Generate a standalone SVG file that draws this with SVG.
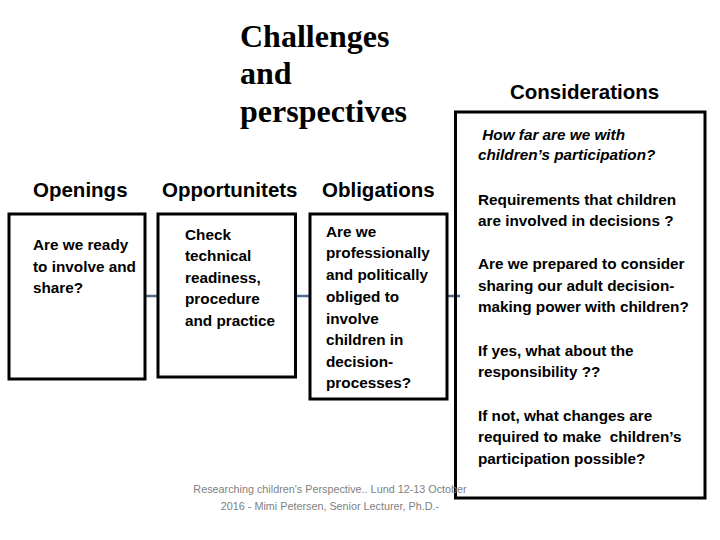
<svg xmlns="http://www.w3.org/2000/svg" width="720" height="540" viewBox="0 0 720 540">
<style>
.box{fill:none;stroke:#000;stroke-width:3}
.title{font-family:"Liberation Serif",serif;font-size:32px;font-weight:bold;fill:#000}
.hd{font-family:"Liberation Sans",Arial,sans-serif;font-size:20.5px;font-weight:bold;fill:#000}
.tx{font-family:"Liberation Sans",Arial,sans-serif;font-size:15.3px;font-weight:bold;fill:#000}
.it{font-style:italic}
.ft{font-family:"Liberation Sans",Arial,sans-serif;font-size:10.8px;fill:#7f7f7f}
.conn{stroke:#4f6a8a;stroke-width:2.5;fill:none}
</style>
<rect width="720" height="540" fill="#fff"/>
<g id="title">
<text class="title" x="240" y="47">Challenges</text>
<text class="title" x="240" y="84">and</text>
<text class="title" x="240" y="122">perspectives</text>
</g>
<g id="connectors">
<line class="conn" x1="145" y1="296" x2="158" y2="296"/>
<line class="conn" x1="295" y1="296" x2="310" y2="296"/>
<line class="conn" x1="447" y1="296" x2="460" y2="296"/>
</g>
<g id="openings">
<text class="hd" x="33" y="197">Openings</text>
<rect class="box" x="9" y="214" width="136" height="165"/>
<text class="tx" x="33" y="250">Are we ready</text>
<text class="tx" x="33" y="272">to involve and</text>
<text class="tx" x="33" y="293">share?</text>
</g>
<g id="opportunities">
<text class="hd" x="162" y="197">Opportunitets</text>
<rect class="box" x="158" y="214" width="137.5" height="163"/>
<text class="tx" x="185" y="240">Check</text>
<text class="tx" x="185" y="261">technical</text>
<text class="tx" x="185" y="283">readiness,</text>
<text class="tx" x="185" y="304">procedure</text>
<text class="tx" x="185" y="326">and practice</text>
</g>
<g id="obligations">
<text class="hd" x="322" y="197">Obligations</text>
<rect class="box" x="310" y="214" width="137" height="185"/>
<text class="tx" x="326" y="237">Are we</text>
<text class="tx" x="326" y="258">professionally</text>
<text class="tx" x="326" y="280">and politically</text>
<text class="tx" x="326" y="302">obliged to</text>
<text class="tx" x="326" y="324">involve</text>
<text class="tx" x="326" y="345">children in</text>
<text class="tx" x="326" y="367">decision-</text>
<text class="tx" x="326" y="388">processes?</text>
</g>
<g id="considerations">
<text class="hd" x="510" y="99">Considerations</text>
<rect class="box" x="455.5" y="112" width="249.5" height="386"/>
<text class="tx it" x="478" y="140" xml:space="preserve"> How far are we with</text>
<text class="tx it" x="478" y="160">children’s participation?</text>
<text class="tx" x="478" y="205">Requirements that children</text>
<text class="tx" x="478" y="226">are involved in decisions ?</text>
<text class="tx" x="478" y="269">Are we prepared to consider</text>
<text class="tx" x="478" y="291">sharing our adult decision-</text>
<text class="tx" x="478" y="312">making power with children?</text>
<text class="tx" x="478" y="356">If yes, what about the</text>
<text class="tx" x="478" y="377">responsibility ??</text>
<text class="tx" x="478" y="421">If not, what changes are</text>
<text class="tx" x="478" y="442" xml:space="preserve">required to make  children’s</text>
<text class="tx" x="478" y="464">participation possible?</text>
</g>
<g id="footer">
<text class="ft" x="330" y="493" text-anchor="middle">Researching children's Perspective.. Lund 12-13 October</text>
<text class="ft" x="330" y="510" text-anchor="middle">2016 - Mimi Petersen, Senior Lecturer, Ph.D.-</text>
</g>
</svg>
